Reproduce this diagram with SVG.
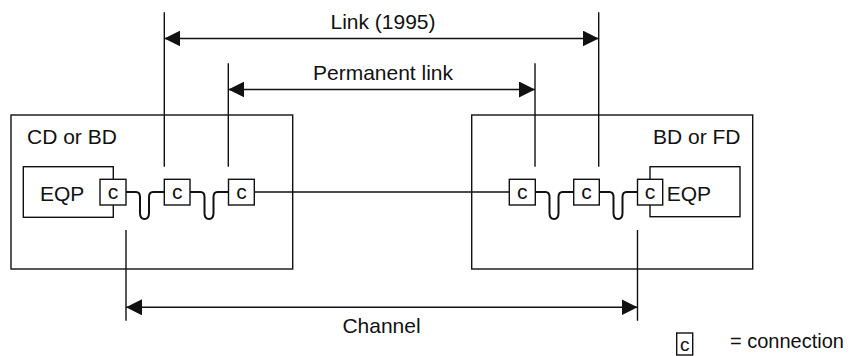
<svg xmlns="http://www.w3.org/2000/svg" width="850" height="356" viewBox="0 0 850 356">
  <style>
    .box { fill: none; stroke: #111; stroke-width: 1.4; }
    .conn { fill: #fff; stroke: #111; stroke-width: 1.4; }
    .wire { fill: none; stroke: #111; stroke-width: 1.6; }
    .loop { fill: none; stroke: #111; stroke-width: 2; stroke-linejoin: round; }
    .dim { fill: none; stroke: #111; stroke-width: 1.4; }
    .ext { fill: none; stroke: #111; stroke-width: 1.4; }
    text { font-family: "Liberation Sans", Arial, sans-serif; font-size: 21px; fill: #111; }
    .mid { text-anchor: middle; }
    .end { text-anchor: end; }
  </style>
  <defs>
    <marker id="arrow" markerUnits="userSpaceOnUse" markerWidth="16" markerHeight="16" refX="16" refY="8" orient="auto-start-reverse">
      <path d="M0,0 L16,8 L0,16 Z" fill="#111"/>
    </marker>
  </defs>

  <!-- distributor enclosures -->
  <g id="cd-bd">
    <rect class="box" x="11" y="115" width="281.7" height="154"/>
    <text x="27" y="143.5">CD or BD</text>
  </g>
  <g id="bd-fd">
    <rect class="box" x="471.7" y="115" width="281" height="154"/>
    <text class="end" x="740.5" y="143.5">BD or FD</text>
  </g>

  <!-- connectors: cabling, loops and dimension lines -->
  <g id="connectors">
    <!-- left patching -->
    <path class="loop" d="M126,192 H136 Q140,192 140,197 V213 Q140,219 144.5,219 Q149,219 149,213 V197 Q149,192 153,192 H164.3"/>
    <path class="loop" d="M190,192 H200.5 Q204.5,192 204.5,197 V213 Q204.5,219 209,219 Q213.5,219 213.5,213 V197 Q213.5,192 217.5,192 H228.7"/>
    <!-- horizontal cable -->
    <path class="wire" d="M254.3,192 H509.3"/>
    <!-- right patching -->
    <path class="loop" d="M535.3,192 H545.5 Q549.5,192 549.5,197 V213 Q549.5,219 554,219 Q558.5,219 558.5,213 V197 Q558.5,192 562.5,192 H573.7"/>
    <path class="loop" d="M599.3,192 H609.5 Q613.5,192 613.5,197 V213 Q613.5,219 618,219 Q622.5,219 622.5,213 V197 Q622.5,192 626.5,192 H637.3"/>

    <!-- extension lines -->
    <path class="ext" d="M164.3,12.3 V166.7 M598.7,12.3 V166.7"/>
    <path class="ext" d="M228.3,63.3 V166.7 M535,63.3 V166.7"/>
    <path class="ext" d="M126,230 V320.7 M637.5,230 V320.7"/>

    <!-- dimension arrows -->
    <line class="dim" x1="164.3" y1="38.5" x2="598.7" y2="38.5" marker-start="url(#arrow)" marker-end="url(#arrow)"/>
    <line class="dim" x1="228.3" y1="89.5" x2="535" y2="89.5" marker-start="url(#arrow)" marker-end="url(#arrow)"/>
    <line class="dim" x1="126" y1="307.3" x2="637.5" y2="307.3" marker-start="url(#arrow)" marker-end="url(#arrow)"/>
  </g>

  <!-- equipment -->
  <g id="eqp-left">
    <rect class="box" x="23.3" y="166.7" width="90" height="50.6"/>
    <text x="40" y="200.7">EQP</text>
  </g>
  <g id="eqp-right">
    <rect class="box" x="650" y="166.7" width="90" height="50"/>
    <text x="666.7" y="200.7">EQP</text>
  </g>

  <!-- connections -->
  <g id="c1">
    <rect class="conn" x="100" y="179.3" width="26" height="25.7"/>
    <text class="mid" x="113" y="199">c</text>
  </g>
  <g id="c2">
    <rect class="conn" x="164.3" y="179.3" width="25.7" height="25.7"/>
    <text class="mid" x="177.2" y="199">c</text>
  </g>
  <g id="c3">
    <rect class="conn" x="228.5" y="179.3" width="25.8" height="25.7"/>
    <text class="mid" x="241.4" y="199">c</text>
  </g>
  <g id="c4">
    <rect class="conn" x="509.3" y="179.3" width="26" height="25.7"/>
    <text class="mid" x="522.3" y="199">c</text>
  </g>
  <g id="c5">
    <rect class="conn" x="573.7" y="179.3" width="25.6" height="25.7"/>
    <text class="mid" x="586.5" y="199">c</text>
  </g>
  <g id="c6">
    <rect class="conn" x="637.5" y="179.3" width="25.2" height="25.7"/>
    <text class="mid" x="650.1" y="199">c</text>
  </g>

  <!-- dimension labels -->
  <g id="label-link">
    <text class="mid" x="383" y="29">Link (1995)</text>
  </g>
  <g id="label-permanent">
    <text class="mid" x="383" y="80">Permanent link</text>
  </g>
  <g id="label-channel">
    <text class="mid" x="381.5" y="333">Channel</text>
  </g>

  <!-- key -->
  <g id="legend">
    <rect class="box" x="676.7" y="333" width="16" height="22"/>
    <text class="mid" x="684.7" y="351" style="font-size:19px">c</text>
    <text x="730" y="348.3" style="font-size:20px">= connection</text>
  </g>
</svg>
